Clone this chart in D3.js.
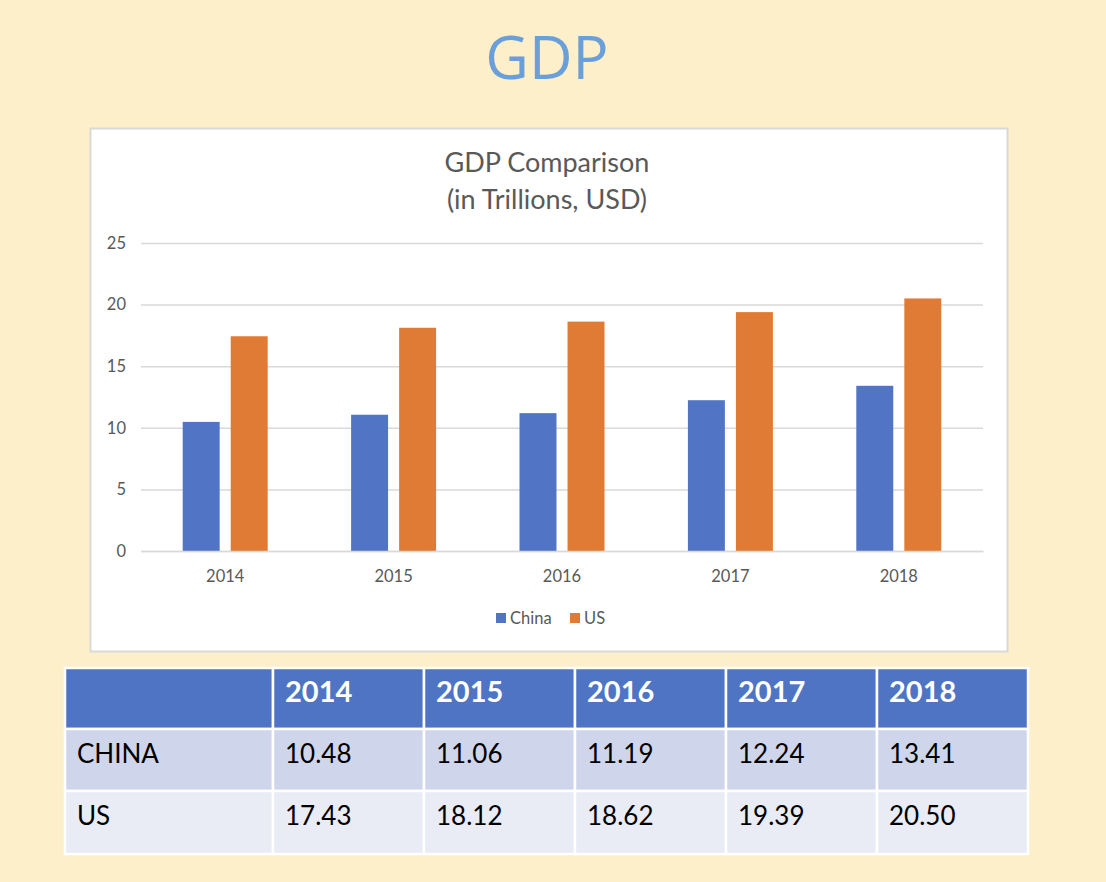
<!DOCTYPE html>
<html><head><meta charset="utf-8">
<script src="https://cdn.jsdelivr.net/npm/d3@7"></script>
<style>
html,body{margin:0;padding:0;background:#FCEFC9;}
svg{display:block;}
</style></head>
<body>
<svg id="c" width="1106" height="882"></svg>
<script>
const years = ["2014","2015","2016","2017","2018"];
const seriesNames = ["China","US"];
const rowLabels = ["CHINA","US"];
const china = [10.48, 11.06, 11.19, 12.24, 13.41];
const us = [17.43, 18.12, 18.62, 19.39, 20.50];
const yTicks = [0,5,10,15,20,25];
const colors = ["#5175C4","#E07B35"];

const svg = d3.select("#c");
svg.append("rect").attr("width",1106).attr("height",882).attr("fill","#FCEFC9");

// Page title
svg.append("text").attr("x",547).attr("y",79).attr("text-anchor","middle")
  .attr("font-family","Open Sans, sans-serif").attr("font-size",60).attr("fill","#6A9FDA")
  .text("GDP");

// chart box
svg.append("rect").attr("x",90.5).attr("y",128.5).attr("width",917).attr("height",523)
  .attr("fill","#fff").attr("stroke","#D9D9D9").attr("stroke-width",2);

const tf = "Lato, 'Open Sans', sans-serif";
svg.append("text").attr("x",547).attr("y",172).attr("text-anchor","middle")
  .attr("font-family",tf).attr("font-size",27).attr("fill","#595959").text("GDP Comparison");
svg.append("text").attr("x",547).attr("y",209).attr("text-anchor","middle")
  .attr("font-family",tf).attr("font-size",27).attr("fill","#595959").text("(in Trillions, USD)");

const x0 = d3.scaleBand().domain(years).range([141,983]).paddingInner(0).paddingOuter(0);
const x1 = d3.scaleBand().domain(seriesNames).range([0,85]).paddingInner(0.23);
const y = d3.scaleLinear().domain([0,25]).range([551,243]);

// grid
const yAxis = svg.append("g").attr("transform","translate(141,0)")
  .call(d3.axisLeft(y).tickValues(yTicks).tickSize(-842).tickPadding(15));
yAxis.select(".domain").remove();
yAxis.selectAll(".tick line").attr("stroke","#D9D9D9").attr("stroke-width",1.5);
yAxis.selectAll(".tick text").attr("font-family",tf).attr("font-size",16.5).attr("fill","#595959");

const data = years.map((yr,i)=>({year:yr, vals:[china[i],us[i]]}));
const groups = svg.append("g").selectAll("g").data(data).join("g")
  .attr("transform",d=>`translate(${x0(d.year)+x0.bandwidth()/2-42.5},0)`);
groups.selectAll("rect").data(d=>d.vals.map((v,j)=>({v,s:seriesNames[j],j})))
  .join("rect")
  .attr("x",d=>x1(d.s)).attr("width",x1.bandwidth())
  .attr("y",d=>y(d.v)).attr("height",d=>y(0)-y(d.v))
  .attr("fill",d=>colors[d.j]);

// x axis
const xAxis = svg.append("g").attr("transform","translate(0,551)")
  .call(d3.axisBottom(x0).tickSize(0).tickPadding(19));
xAxis.select(".domain").attr("stroke","#D9D9D9").attr("stroke-width",1.5);
xAxis.selectAll(".tick text").attr("font-family",tf).attr("font-size",16.5).attr("fill","#595959");

// legend
const legX = [496,570];
const lg = svg.append("g").selectAll("g").data(seriesNames).join("g")
  .attr("transform",(d,i)=>`translate(${legX[i]},613)`);
lg.append("rect").attr("width",10).attr("height",10).attr("fill",(d,i)=>colors[i]);
lg.append("text").attr("x",14).attr("y",11).attr("font-family",tf).attr("font-size",16.5)
  .attr("fill","#595959").text(d=>d);

// table
const colX = [65,273,424,575,726,877,1028];
const rowY = [668,729,791,854];
const rowFill = ["#4F74C4","#CFD5EA","#E9EBF5"];
const tbl = svg.append("g");
const rows = [[""].concat(years),
  [rowLabels[0]].concat(china.map(v=>v.toFixed(2))),
  [rowLabels[1]].concat(us.map(v=>v.toFixed(2)))];
rows.forEach((r,ri)=>{
  r.forEach((txt,ci)=>{
    tbl.append("rect").attr("x",colX[ci]).attr("y",rowY[ri])
      .attr("width",colX[ci+1]-colX[ci]).attr("height",rowY[ri+1]-rowY[ri])
      .attr("fill",rowFill[ri]).attr("stroke","#fff").attr("stroke-width",2.5);
    tbl.append("text").attr("x",colX[ci]+12).attr("y",rowY[ri]+34)
      .attr("font-family",tf).attr("font-size",ri===0?29:26)
      .attr("font-weight",ri===0?"bold":"normal")
      .attr("fill",ri===0?"#fff":"#000").text(txt);
  });
});
</script>
</body></html>
